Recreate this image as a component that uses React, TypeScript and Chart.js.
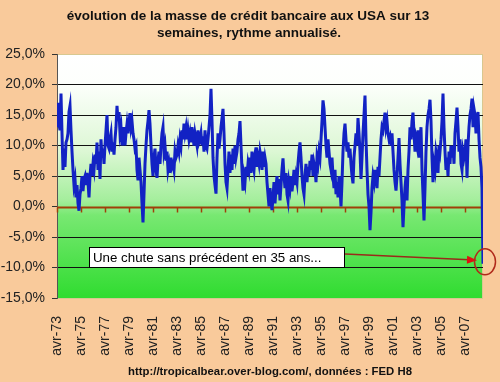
import React, { useEffect, useRef } from "react";
import { Chart, registerables } from "chart.js";
Chart.register(...registerables);

const titleLines = [
  "évolution de la masse de crédit bancaire aux USA sur 13",
  "semaines, rythme annualisé.",
];
const footerText = "http://tropicalbear.over-blog.com/, données : FED H8";
const noteText = "Une chute sans précédent en 35 ans...";

const tickLabels = [
  "avr-73", "avr-75", "avr-77", "avr-79", "avr-81", "avr-83", "avr-85", "avr-87", "avr-89",
  "avr-91", "avr-93", "avr-95", "avr-97", "avr-99", "avr-01", "avr-03", "avr-05", "avr-07",
];
const monthsPerTick = 24;
const yTicks = [-15, -10, -5, 0, 5, 10, 15, 20, 25];

// monthly readings (%), one row per year starting in April
const y1973 = [13, 17, 13.5, 12.5, 18.5, 12, 6, 9.5, 6.5, 10.5, 11, 12];
const y1974 = [15.5, 16.5, 12.5, 9, 6, 3.5, 4.5, 1.5, 3.5, 0.5, -0.7, 2];
const y1975 = [3, 5, 2.5, 4.5, 5, 3.5, 5.5, 4, 1.5, 5, 7, 5];
const y1976 = [7, 6, 8.5, 7, 10.5, 6, 9, 4.5, 11, 8, 9.5, 7];
const y1977 = [10, 12.5, 15, 10, 9.5, 11, 12, 9, 10.5, 8.5, 11, 13];
const y1978 = [16.5, 14, 15.5, 12, 13, 10, 11.5, 13, 10, 12, 13.5, 12];
const y1979 = [14, 15.3, 13, 14, 12, 11, 9.5, 10, 6, 4.3, 8, 6];
const y1980 = [4, 0.5, -2.6, 2, 7, 10, 12.5, 14, 15.8, 13.5, 10, 7];
const y1981 = [5, 8, 9.5, 6, 4.7, 7.5, 9, 7, 10, 12, 13, 9];
const y1982 = [10, 7.5, 9, 6, 7, 5.5, 8, 6.5, 7, 6, 9, 8];
const y1983 = [8.5, 10, 9, 11, 10, 12.5, 11, 13.6, 12, 13, 11, 12.5];
const y1984 = [11, 12, 10.5, 13, 11.5, 10, 12, 11, 10, 12.5, 10.5, 11];
const y1985 = [12, 10, 11.5, 9, 12.5, 10, 9.5, 11, 13, 15, 19.3, 14];
const y1986 = [8, 5, 3.5, 2.1, 8, 12, 9.5, 11, 13, 14.5, 16, 12];
const y1987 = [7, 4, 3, 6, 9, 5.5, 8.5, 6, 9.5, 7, 10, 8];
const y1988 = [9, 11, 12, 14, 10, 6, 2.6, 5, 4, 6.5, 5, 7];
const y1989 = [6, 8, 5.5, 9, 7, 6, 8.5, 9.7, 6.5, 8, 7, 9];
const y1990 = [8, 6, 9, 6.5, 8, 7, 4, 2, 0, 3, 1, -0.6];
const y1991 = [1.5, 4, 0.5, 3, 5, 2, 4.5, 1, 3.5, 6, 7.9, 5];
const y1992 = [3, 5.5, 2, 1, 4, 3, 5, 2.5, 4, 6, 3.5, 5];
const y1993 = [4, 7, 9, 10.5, 8, 5, 3, 2, 5, 7, 4, 6.5];
const y1994 = [5, 7.5, 6, 8.5, 5, 7, 6, 4, 8, 7, 9, 8];
const y1995 = [11, 14, 17.4, 16, 13, 10, 8, 11, 9, 7, 6, 8];
const y1996 = [5, 3, 6, 2, 4, 1.5, 5, 3, 0, 4, 9, 12];
const y1997 = [13.6, 11, 9, 10.5, 8, 9.5, 7, 5, 3.8, 8, 10, 12];
const y1998 = [10, 14.5, 12, 9, 4.5, 8, 12, 15, 18.2, 11, 6, 2];
const y1999 = [0, -3.9, -1, 3, 5, 4, 6, 4.5, 3, 6.5, 5, 8];
const y2000 = [11, 13, 12.5, 14, 15.4, 13, 14, 12, 11, 11.5, 10, 12];
const y2001 = [9, 6, 4, 2.6, 5, 8, 11.2, 7, 4, 1, -3.4, 0];
const y2002 = [3, 5, 1, 6, 9, 13, 11, 14, 15.4, 12, 9, 11];
const y2003 = [10, 12.5, 8, 11, 13, 6, 2, -2.3, 3, 9, 13, 15];
const y2004 = [16, 17.5, 14, 8, 4, 7, 6, 9, 8, 5.5, 10, 9];
const y2005 = [11, 14, 18.5, 13, 9, 6, 8, 5, 9, 7, 10, 8];
const y2006 = [10, 7, 12, 14, 16.2, 13, 9, 11, 7, 6, 9, 8];
const y2007 = [9, 11, 4.7, 10, 13, 15, 16, 17.7, 13, 16, 15, 12];
const y2008 = [14, 15.5, 11, 8, 6.5, 3, -9.4];

const values: number[] = [
  ...y1973, ...y1974, ...y1975, ...y1976, ...y1977, ...y1978, ...y1979, ...y1980,
  ...y1981, ...y1982, ...y1983, ...y1984, ...y1985, ...y1986, ...y1987, ...y1988,
  ...y1989, ...y1990, ...y1991, ...y1992, ...y1993, ...y1994, ...y1995, ...y1996,
  ...y1997, ...y1998, ...y1999, ...y2000, ...y2001, ...y2002, ...y2003, ...y2004,
  ...y2005, ...y2006, ...y2007, ...y2008,
];
const arrowTarget = -8.8;

const FONT = "Arial, 'Liberation Sans', sans-serif";

export default function App() {
  const ref = useRef<HTMLCanvasElement | null>(null);
  useEffect(() => {
    const canvas = ref.current;
    if (!canvas) return;
    document.body.style.margin = "0";

    const decor = {
      id: "decor",
      beforeDraw(chart: any) {
        const { ctx, chartArea: a } = chart;
        ctx.save();
        ctx.fillStyle = "#F9CA9B";
        ctx.fillRect(0, 0, chart.width, chart.height);
        const g = ctx.createLinearGradient(0, a.top, 0, a.bottom);
        g.addColorStop(0, "#ffffff");
        g.addColorStop(0.12, "#fdfffc");
        g.addColorStop(0.4, "#dcf7d4");
        g.addColorStop(0.6, "#a4ee9c");
        g.addColorStop(0.66, "#78e872");
        g.addColorStop(1, "#30dc30");
        ctx.fillStyle = g;
        ctx.fillRect(a.left, a.top, a.right - a.left, a.bottom - a.top);
        ctx.strokeStyle = "#d8c890";
        ctx.lineWidth = 1;
        ctx.strokeRect(a.left + 0.5, a.top + 0.5, a.right - a.left - 1, a.bottom - a.top);
        // titles
        ctx.fillStyle = "#111";
        ctx.textAlign = "center";
        ctx.textBaseline = "middle";
        ctx.font = `bold 13.5px ${FONT}`;
        ctx.fillText(titleLines[0], 248, 16);
        ctx.fillText(titleLines[1], 249, 33);
        ctx.font = `bold 11px ${FONT}`;
        const w = ctx.measureText(footerText).width;
        ctx.save();
        ctx.translate(270, 372);
        ctx.scale(284 / w, 1);
        ctx.fillText(footerText, 0, 0);
        ctx.restore();
        ctx.restore();
      },
      beforeDatasetsDraw(chart: any) {
        const { ctx, chartArea: a, scales } = chart;
        const y0 = Math.round(scales.y.getPixelForValue(0)) + 0.5;
        ctx.save();
        ctx.strokeStyle = "#A0400A";
        ctx.lineWidth = 2;
        ctx.beginPath();
        ctx.moveTo(a.left, y0);
        ctx.lineTo(a.right, y0);
        ctx.stroke();
        ctx.lineWidth = 1.5;
        tickLabels.forEach((_, i) => {
          const x = Math.round(scales.x.getPixelForValue(i * monthsPerTick)) + 0.5;
          ctx.beginPath();
          ctx.moveTo(x, y0);
          ctx.lineTo(x, y0 + 5);
          ctx.stroke();
        });
        ctx.restore();
      },
      afterDraw(chart: any) {
        const { ctx, scales } = chart;
        ctx.save();
        // note box
        ctx.fillStyle = "#ffffff";
        ctx.fillRect(89, 247, 255, 20);
        ctx.strokeStyle = "#000";
        ctx.lineWidth = 1;
        ctx.strokeRect(89.5, 247.5, 255, 20);
        ctx.fillStyle = "#000";
        ctx.font = `13.3px ${FONT}`;
        ctx.textAlign = "left";
        ctx.textBaseline = "middle";
        ctx.fillText(noteText, 93, 258);
        // arrow
        const last = values.length - 1;
        const ex = scales.x.getPixelForValue(last) - 6;
        const ey = scales.y.getPixelForValue(arrowTarget);
        const sx = 345, sy = 254;
        ctx.strokeStyle = "#9a2a1a";
        ctx.lineWidth = 1.5;
        ctx.beginPath();
        ctx.moveTo(sx, sy);
        ctx.lineTo(ex - 8, ey - 0.5);
        ctx.stroke();
        const ang = Math.atan2(ey - sy, ex - sx);
        ctx.fillStyle = "#e01010";
        ctx.beginPath();
        ctx.moveTo(ex, ey);
        ctx.lineTo(ex - 10 * Math.cos(ang) + 4 * Math.sin(ang), ey - 10 * Math.sin(ang) - 4 * Math.cos(ang));
        ctx.lineTo(ex - 10 * Math.cos(ang) - 4 * Math.sin(ang), ey - 10 * Math.sin(ang) + 4 * Math.cos(ang));
        ctx.closePath();
        ctx.fill();
        // circle
        const cx = scales.x.getPixelForValue(last) + 2;
        const cy = scales.y.getPixelForValue(values[last]) - 2;
        ctx.strokeStyle = "#b02a1a";
        ctx.lineWidth = 1.5;
        ctx.beginPath();
        ctx.ellipse(cx, cy, 10.5, 13, 0, 0, Math.PI * 2);
        ctx.stroke();
        ctx.restore();
      },
    };

    const chart = new Chart(canvas, {
      type: "line",
      data: {
        datasets: [
          {
            data: values.map((v, i) => ({ x: i, y: v })),
            borderColor: "#1222C4",
            borderWidth: 3,
            pointRadius: 0,
            tension: 0,
            fill: false,
          },
        ],
      },
      options: {
        responsive: false,
        animation: false,
        events: [],
        layout: { padding: { top: 54, right: 17, left: 0, bottom: 0 } },
        plugins: { legend: { display: false }, title: { display: false }, tooltip: { enabled: false } },
        scales: {
          x: {
            type: "linear",
            min: 0,
            max: values.length - 1,
            afterBuildTicks: (s: any) => {
              s.ticks = tickLabels.map((_, i) => ({ value: i * monthsPerTick }));
            },
            afterFit: (s: any) => {
              s.height = 84;
            },
            grid: { display: false },
            border: { display: false },
            ticks: {
              autoSkip: false,
              minRotation: 90,
              maxRotation: 90,
              padding: 10,
              color: "#222",
              font: { family: FONT, size: 14 },
              callback: (v: any) => tickLabels[Math.round(Number(v) / monthsPerTick)] ?? "",
            },
          },
          y: {
            min: -15,
            max: 25,
            afterBuildTicks: (s: any) => {
              s.ticks = yTicks.map((v) => ({ value: v }));
            },
            afterFit: (s: any) => {
              s.width = 57;
            },
            grid: {
              color: (c: any) => (c.tick && (c.tick.value === 0 || c.tick.value === 25 || c.tick.value === -15) ? "rgba(0,0,0,0)" : "#111"),
              tickColor: "#333",
              tickLength: 5,
              lineWidth: 1,
            },
            border: { display: true, color: "#555", width: 1 },
            ticks: {
              padding: 7,
              color: "#222",
              font: { family: FONT, size: 14 },
              callback: (v: any) => Number(v).toFixed(1).replace(".", ",") + "%",
            },
          },
        },
      },
      plugins: [decor],
    });
    return () => chart.destroy();
  }, []);
  return (
    <div style={{ position: "fixed", left: 0, top: 0, width: 500, height: 382 }}>
      <canvas ref={ref} width={500} height={382} style={{ display: "block" }} />
    </div>
  );
}
